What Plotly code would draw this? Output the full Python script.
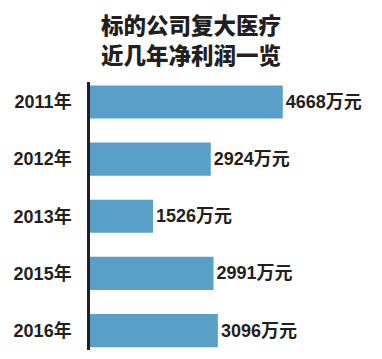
import plotly.graph_objects as go

years = ["2011年", "2012年", "2013年", "2015年", "2016年"]
profits = [4668, 2924, 1526, 2991, 3096]
unit = "万元"
title_lines = ["标的公司复大医疗", "近几年净利润一览"]

font_fam = "Liberation Sans, Arial, Noto Sans CJK SC, sans-serif"

fig = go.Figure(go.Bar(
    x=profits,
    y=years,
    orientation="h",
    marker=dict(color="#58a0c8", line=dict(width=0)),
    text=[f"{v}{unit}" for v in profits],
    textposition="outside",
    textfont=dict(family=font_fam, size=18, color="#231f20", weight="bold"),
    cliponaxis=False,
))

H_PLOT = 359 - 82 - 9
for i, (line, ypix) in enumerate(zip(title_lines, [24, 54])):
    fig.add_annotation(
        text=line, xref="paper", yref="paper",
        x=(191 - 90) / 292, y=(350 - ypix) / H_PLOT,
        xanchor="center", yanchor="middle", showarrow=False,
        font=dict(family="Noto Sans CJK SC, sans-serif", size=22.5,
                  color="#231f20", weight=900),
    )

fig.update_layout(
    width=382, height=359,
    margin=dict(l=90, r=0, t=82, b=9),
    paper_bgcolor="white", plot_bgcolor="white",
    bargap=0.42,
    showlegend=False,
    xaxis=dict(range=[0, 7070], visible=False, fixedrange=True),
    yaxis=dict(
        type="category",
        range=[4.34, -0.35],
        showline=True, linewidth=2.5, linecolor="#231f20",
        showgrid=False, zeroline=False,
        ticks="", ticklabelstandoff=12,
        tickfont=dict(family=font_fam, size=18, color="#231f20", weight="bold"),
    ),
)

fig.write_html("out.html")
